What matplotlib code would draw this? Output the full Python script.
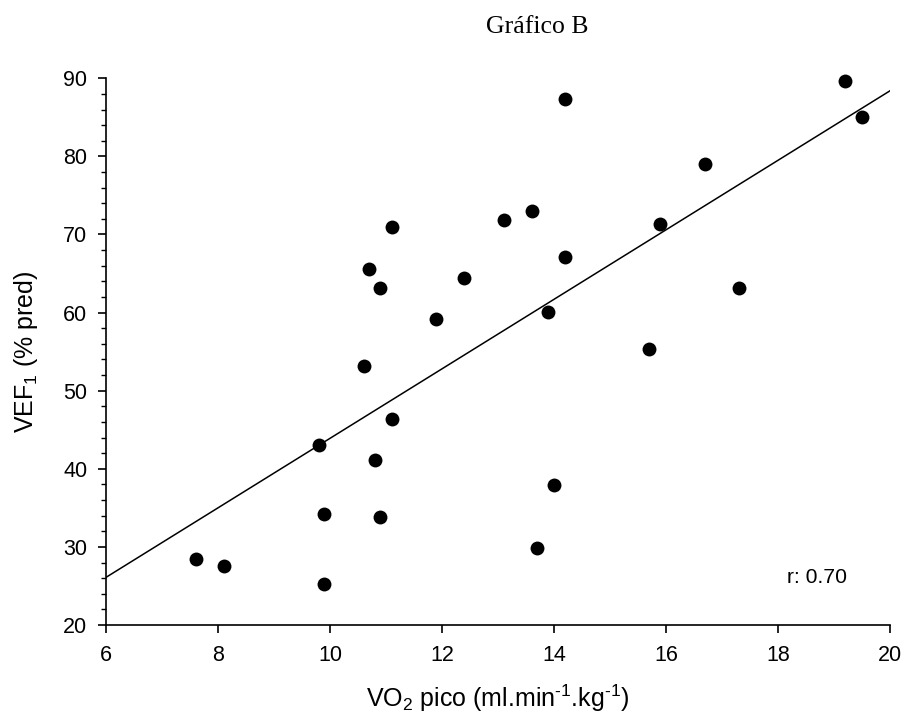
import matplotlib
matplotlib.use("Agg")
import matplotlib.pyplot as plt
from matplotlib.ticker import MultipleLocator
import numpy as np

plt.rcParams['font.family'] = ['Liberation Sans', 'DejaVu Sans']
plt.rcParams['mathtext.fontset'] = 'custom'
plt.rcParams['mathtext.rm'] = 'Liberation Sans'
plt.rcParams['mathtext.it'] = 'Liberation Sans'
plt.rcParams['mathtext.default'] = 'regular'

vo2 = [11.1, 10.7, 10.9, 12.4, 11.9, 10.6, 13.1, 14.2, 19.2, 19.5, 16.7, 13.6, 15.9, 14.2,
       13.9, 17.3, 15.7, 11.1, 9.8, 10.8, 9.9, 10.9, 7.6, 8.1, 9.9, 14.0, 13.7]
vef1 = [71.0, 65.6, 63.1, 64.4, 59.2, 53.1, 71.9, 87.4, 89.6, 85.1, 79.0, 73.0, 71.3, 67.1,
        60.1, 63.2, 55.3, 46.4, 43.1, 41.1, 34.2, 33.8, 28.4, 27.6, 25.2, 37.9, 29.8]
fit_slope = 4.45
fit_intercept = -0.6
line_x = [6, 20]
r_text = "r: 0.70"

fig = plt.figure(figsize=(9.07, 7.22), dpi=100)
ax = fig.add_axes([106/907, 1-625/722, (890-106)/907, (625-78.3)/722])

ax.scatter(vo2, vef1, s=100, color='black', zorder=3, linewidths=0, clip_on=False)
lx = np.array(line_x, dtype=float)
ax.plot(lx, fit_slope*lx + fit_intercept, color='black', lw=1.1)

ax.set_xlim(6, 20)
ax.set_ylim(20, 90)
ax.set_xticks(np.arange(6, 21, 2))
ax.set_yticks(np.arange(20, 91, 10))
ax.yaxis.set_minor_locator(MultipleLocator(2))
for s in ['top', 'right']:
    ax.spines[s].set_visible(False)
for s in ['left', 'bottom']:
    ax.spines[s].set_linewidth(1.2)
ax.tick_params(axis='both', which='major', length=5.5, width=1.2, labelsize=15.5, direction='out')
ax.tick_params(axis='y', which='minor', length=3.6, width=1.0, direction='out')
ax.tick_params(axis='x', pad=9)
ax.tick_params(axis='y', pad=8)

ax.set_xlabel("VO$_2$ pico (ml.min$^{\\text{-}1}$.kg$^{\\text{-}1}$)", fontsize=18, labelpad=12)
ax.set_ylabel("VEF$_1$ (% pred)", fontsize=18, labelpad=17)

ax.text(18.16, 26.1, r_text, fontsize=15.2, ha='left', va='center')
fig.text(537/907, 1-27/722, "Gráfico B", fontsize=18.5, ha='center', va='center',
         family=['Liberation Serif', 'DejaVu Serif'])

fig.savefig("out.png", dpi=100)
